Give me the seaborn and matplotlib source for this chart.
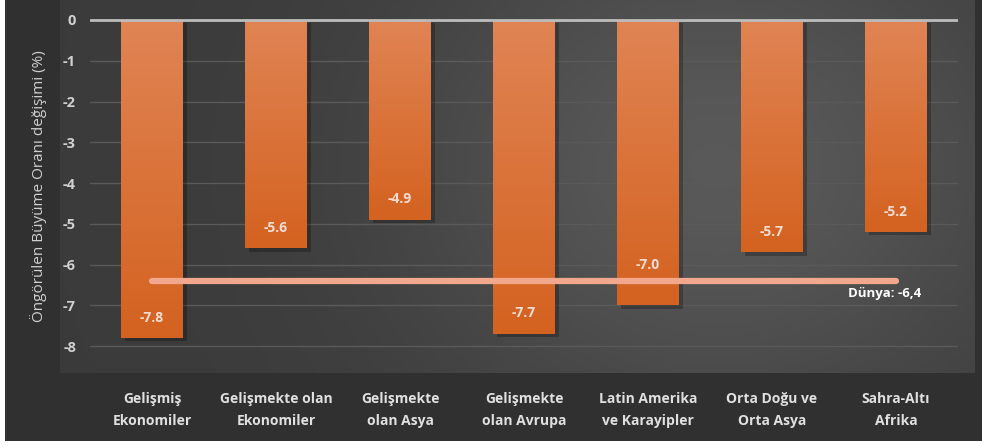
import numpy as np
import pandas as pd
import matplotlib
matplotlib.use('Agg')
import matplotlib.pyplot as plt
import seaborn as sns
from matplotlib.patches import Rectangle

# Data
regions = ['Gelişmiş\nEkonomiler', 'Gelişmekte olan\nEkonomiler', 'Gelişmekte\nolan Asya',
           'Gelişmekte\nolan Avrupa', 'Latin Amerika\nve Karayipler', 'Orta Doğu ve\nOrta Asya',
           'Sahra-Altı\nAfrika']
growth = [-7.8, -5.6, -4.9, -7.7, -7.0, -5.7, -5.2]
value_labels = ['-7.8', '-5.6', '-4.9', '-7.7', '-7.0', '-5.7', '-5.2']
world = -6.4
world_label = 'Dünya: -6,4'
yticks = [0, -1, -2, -3, -4, -5, -6, -7, -8]

df = pd.DataFrame({'region': regions, 'growth': growth})

sns.set_style('dark')
plt.rcParams['font.family'] = ['Open Sans', 'DejaVu Sans']

fig = plt.figure(figsize=(9.82, 4.48), dpi=100, facecolor='white')
W, H = 982, 448

# dark outer frame (white strip left and bottom like the source image)
frame = fig.add_axes([5 / W, 7 / H, 1 - 5 / W, 1 - 7 / H], zorder=-2)
frame.set_facecolor('#303030')
frame.set_xticks([])
frame.set_yticks([])
for s in frame.spines.values():
    s.set_visible(False)

# gradient plot background
bg = fig.add_axes([60 / W, 1 - 373 / H, (975 - 60) / W, 373 / H], zorder=-1)
xx = np.linspace(0, 1, 300)
yy = np.linspace(0, 1, 100)
X, Y = np.meshgrid(xx, yy)
g = 0.23 + 0.12 * np.exp(-((X - 0.72) ** 2) / 0.12 - ((Y - 0.45) ** 2) / 0.5)
bg.imshow(np.dstack([g, g, g]), aspect='auto', extent=[0, 1, 0, 1])
bg.set_axis_off()

ax = fig.add_axes([90 / W, 1 - 373 / H, (958 - 90) / W, 373 / H], zorder=1)
ax.set_facecolor('none')

sns.barplot(data=df, x='region', y='growth', color='#d8672a', width=0.5, ax=ax,
            saturation=1, edgecolor='none', linewidth=0, zorder=3)

ax.set_xlim(-0.5, 6.5)
ax.set_ylim(-8.66, 0.49)

# gradient fill on bars
grad = np.linspace(0, 1, 100).reshape(-1, 1)
top = np.array([224, 132, 84]) / 255
bot = np.array([212, 98, 32]) / 255
cols = top + (bot - top) * grad
for p in list(ax.patches):
    x0, y0 = p.get_x(), p.get_y()
    w, h = p.get_width(), p.get_height()
    ax.add_patch(Rectangle((x0 + 0.03, y0 - 0.08), w, h, facecolor='black', alpha=0.25,
                           edgecolor='none', zorder=2))
    im = ax.imshow(cols[:, None, :], extent=[x0, x0 + w, y0 + h, y0], aspect='auto',
                   zorder=4, origin='upper')
    im.set_clip_path(p)

# grid lines
ax.grid(False)
for t in yticks:
    if t == 0:
        ax.axhline(t, color='#bdbdbd', lw=2, zorder=5)
    else:
        ax.axhline(t, color='#5a5a5a', lw=1, zorder=1)

# world line
idx = np.arange(len(regions))
ax.plot([idx[0], idx[-1]], [world, world], color='#f2a88c', lw=4.5,
        solid_capstyle='round', zorder=6)
ax.text(idx[-1] - 0.09, world - 0.3, world_label, color='white', fontsize=9.5,
        fontweight='bold', ha='center', va='center', zorder=7)

# value labels inside bars
for i, (v, lab) in enumerate(zip(growth, value_labels)):
    ypos = v + 0.5
    if abs(v - world) < 0.8 and v < world:
        ypos = v + 1.0
    ax.text(i, ypos, lab, color='#f3ddd2', fontsize=10, fontweight='bold',
            ha='center', va='center', zorder=7)

ax.set_yticks(yticks)
ax.set_yticklabels([str(t) for t in yticks], color='#d0d0d0', fontsize=10.5, fontweight='bold')
ax.tick_params(axis='y', length=0, pad=10)
ax.tick_params(axis='x', length=0, pad=14)
for lab in ax.get_xticklabels():
    lab.set_color('#e0e0e0')
    lab.set_fontsize(10)
    lab.set_fontweight('bold')
    lab.set_linespacing(1.65)

ax.set_xlabel('')
ax.set_ylabel('Öngörülen Büyüme Oranı değişimi (%)', color='#d0d0d0', fontsize=11)
ax.yaxis.set_label_coords(-0.05, 0.5)
for s in ax.spines.values():
    s.set_visible(False)

fig.savefig('out.png', dpi=100, facecolor=fig.get_facecolor())
